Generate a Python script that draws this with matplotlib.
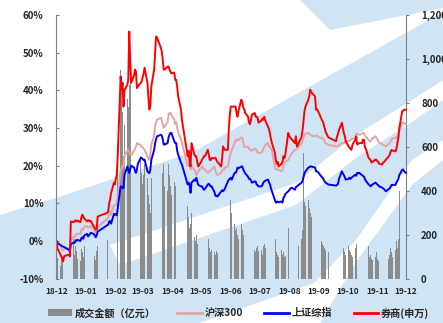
import numpy as np
import pandas as pd
import matplotlib
matplotlib.use("Agg")
import matplotlib.pyplot as plt
import matplotlib.dates as mdates
from matplotlib.patches import Polygon, Patch
from matplotlib.lines import Line2D
from matplotlib.ticker import FuncFormatter, FixedLocator

plt.rcParams['font.family'] = ['Noto Sans CJK SC', 'DejaVu Sans']
plt.rcParams['font.weight'] = 'bold'

# trading calendar, 2018-12-20 .. 2019-12-20
holidays = ['2018-12-31', '2019-01-01', '2019-02-04', '2019-02-05', '2019-02-06',
            '2019-02-07', '2019-02-08', '2019-04-05', '2019-05-01', '2019-05-02',
            '2019-05-03', '2019-06-07', '2019-09-13', '2019-10-01', '2019-10-02',
            '2019-10-03', '2019-10-04', '2019-10-07']

# 成交金额 (亿元), one value per trading day, month by month
turnover = (
    [150, 95, 60, 110, 75, 95, 80] +
    [60, 75, 230, 180, 110, 150, 125, 90, 80, 135, 120, 100, 150, 130, 95, 80, 100, 110, 120, 105, 85, 125] +
    [150, 175, 210, 300, 290, 260, 390, 470, 410, 440, 610, 950, 870, 760, 560] +
    [700, 820, 780, 880, 920, 900, 760, 790, 700, 520, 470, 560, 480, 430, 470, 520, 460, 380, 340, 300, 460] +
    [620, 600, 560, 650, 700, 560, 480, 520, 420, 400, 520, 470, 420, 380, 440, 420, 350, 360, 300, 290, 250] +
    [330, 280, 230, 250, 300, 190, 170, 200, 160, 150, 130, 140, 150, 120, 125, 160, 180, 140, 120, 130] +
    [120, 110, 125, 115, 160, 260, 200, 160, 140, 150, 270, 320, 360, 300, 250, 220, 230, 200, 180] +
    [250, 220, 200, 170, 160, 200, 170, 140, 150, 160, 130, 120, 140, 150, 125, 130, 110, 150, 160, 140, 170, 130, 120] +
    [140, 150, 170, 180, 120, 110, 100, 130, 110, 120, 100, 105, 230, 260, 200, 160, 170, 140, 150, 130, 130, 150] +
    [180, 220, 570, 350, 330, 360, 320, 300, 280, 260, 240, 200, 180, 190, 170, 160, 150, 140, 130, 120] +
    [100, 110, 130, 150, 250, 170, 140, 120, 110, 150, 130, 120, 110, 100, 140, 160, 120, 110] +
    [100, 130, 120, 110, 100, 95, 150, 100, 110, 90, 85, 100, 120, 90, 80, 75, 90, 85, 80, 95, 70] +
    [90, 110, 140, 120, 100, 130, 170, 140, 180, 400, 570, 480, 310, 350, 260]
)

# cumulative change, %
hs300 = (
    [0, -0.8, -1.2, -1.8, -2.3, -2.5, -2.2] +
    [-2.0, -2.5, 0.5, 1.0, 1.0, 1.8, 1.6, 2.0, 1.8, 3.0, 3.3, 3.0, 3.8, 4.0, 3.5, 3.6, 3.8, 4.0, 3.0, 2.5, 2.0, 2.8] +
    [3.8, 5.8, 6.0, 7.5, 7.8, 7.0, 9.5, 9.4, 9.6, 9.8, 12.0, 19.0, 19.0, 20.0, 19.8] +
    [22.5, 24.0, 24.2, 23.5, 23.0, 22.8, 24.0, 24.5, 25.0, 26.0, 25.8, 25.5, 25.0, 24.8, 24.5, 24.2, 22.5, 21.8, 21.6, 23.0, 25.5] +
    [28.0, 30.5, 31.5, 32.2, 32.7, 32.0, 31.0, 30.1, 30.4, 31.5, 33.5, 34.0, 34.0, 33.5, 32.2, 31.0, 31.5, 30.0, 29.0, 27.0, 26.0] +
    [20.0, 20.3, 19.8, 19.0, 20.0, 18.9, 18.5, 17.5, 17.8, 18.5, 19.5, 19.8, 19.4, 19.0, 19.0, 18.1, 18.5, 18.5, 18.8, 19.0] +
    [19.8, 18.5, 18.0, 17.5, 18.1, 18.8, 19.0, 19.0, 19.5, 19.8, 21.0, 22.5, 23.5, 24.0, 26.0, 26.9, 26.5, 27.0, 26.8] +
    [27.5, 27.4, 26.0, 25.1, 25.0, 25.0, 24.5, 24.5, 24.0, 24.0, 24.5, 24.5, 24.0, 23.5, 23.4, 23.4, 23.8, 24.5, 25.0, 25.5, 26.0, 25.0, 25.0] +
    [24.5, 24.0, 19.8, 19.0, 18.9, 19.0, 18.9, 18.5, 18.8, 20.0, 20.5, 21.1, 21.5, 22.0, 22.5, 23.0, 23.4, 24.2, 24.3, 24.5, 24.8, 25.0] +
    [26.0, 26.5, 27.5, 28.2, 28.5, 28.7, 28.5, 28.2, 28.0, 27.8, 28.0, 28.0, 27.8, 27.5, 27.4, 27.2, 27.0, 26.5, 26.0, 25.5] +
    [25.2, 25.1, 25.3, 25.5, 26.0, 26.0, 26.0, 26.2, 26.4, 26.5, 26.6, 26.8, 27.0, 27.2, 27.4, 28.5, 28.5, 28.3] +
    [28.2, 28.5, 28.7, 28.7, 28.0, 27.8, 26.8, 26.5, 26.4, 27.0, 27.2, 27.8, 27.5, 27.0, 26.5, 26.0, 25.8, 25.5, 25.5, 25.2, 25.1] +
    [25.8, 26.0, 26.5, 27.0, 27.2, 27.4, 27.4, 27.8, 28.0, 29.0, 31.4, 31.5, 31.4, 31.0, 31.0]
)

sh_comp = (
    [0, -0.5, -1.0, -1.2, -1.4, -1.5, -1.6] +
    [-2.3, -2.8, -0.8, -0.4, -0.5, 0.2, 0.1, 0.3, 0.0, 0.8, 1.0, 0.6, 1.5, 1.9, 1.2, 1.5, 1.9, 2.2, 1.8, 1.5, 1.0, 1.5] +
    [2.5, 4.2, 4.3, 5.2, 5.3, 4.6, 7.2, 7.0, 7.2, 6.8, 8.8, 14.5, 14.2, 14.3, 14.0] +
    [17.5, 19.8, 18.8, 18.1, 19.0, 20.0, 19.5, 18.6, 18.1, 19.0, 20.5, 22.1, 22.0, 21.8, 21.5, 21.6, 18.5, 18.2, 18.0, 19.0, 21.5] +
    [24.2, 26.0, 27.0, 27.8, 28.2, 28.0, 27.0, 25.6, 25.6, 26.0, 27.5, 28.2, 28.7, 28.7, 26.5, 26.0, 26.0, 24.0, 23.0, 20.8, 20.3] +
    [15.0, 15.5, 14.9, 12.8, 15.5, 16.3, 16.0, 16.8, 15.8, 14.9, 14.5, 14.5, 14.0, 13.6, 13.8, 15.0, 15.2, 14.9, 14.5, 14.5] +
    [13.0, 12.0, 12.0, 11.8, 13.2, 13.5, 13.2, 13.5, 14.0, 15.8, 16.3, 16.5, 16.8, 16.3, 18.1, 18.1, 18.5, 19.5, 19.3] +
    [19.8, 19.8, 19.0, 18.5, 18.0, 17.1, 16.5, 16.5, 16.2, 15.5, 15.8, 15.8, 15.0, 14.8, 14.5, 14.5, 14.8, 15.5, 15.8, 16.0, 16.3, 15.5, 15.0] +
    [14.0, 13.2, 11.0, 10.2, 10.3, 10.5, 10.3, 10.5, 10.2, 11.5, 11.8, 12.5, 13.2, 13.5, 13.8, 14.1, 14.1, 13.6, 14.3, 14.5, 14.7, 14.9] +
    [15.5, 16.0, 17.0, 18.0, 18.5, 19.5, 19.6, 19.8, 19.8, 19.5, 18.5, 18.5, 18.3, 18.0, 17.0, 16.8, 16.3, 15.8, 15.5, 15.0] +
    [14.7, 14.9, 15.2, 16.5, 18.5, 18.0, 17.5, 17.0, 16.3, 16.5, 16.8, 16.5, 16.8, 17.0, 17.6, 17.3, 18.1, 18.0] +
    [18.1, 17.5, 17.3, 17.1, 16.5, 16.0, 15.0, 14.8, 14.5, 14.8, 15.0, 15.5, 15.3, 15.0, 14.8, 14.5, 14.2, 14.0, 13.8, 13.5, 13.2] +
    [13.8, 14.0, 14.5, 14.9, 14.9, 14.9, 15.5, 16.0, 16.5, 17.5, 18.9, 19.0, 18.5, 18.3, 18.1]
)

brokers = (
    [0, -2.0, -3.5, -4.1, -4.6, -5.4, -4.0] +
    [-3.6, -4.1, 5.2, 5.0, 5.3, 5.5, 5.2, 5.4, 5.0, 6.3, 7.0, 6.5, 6.0, 5.2, 5.5, 5.5, 5.2, 5.3, 3.8, 3.5, 3.0, 3.2] +
    [6.5, 7.5, 7.9, 10.0, 11.0, 12.7, 15.5, 15.0, 16.7, 17.5, 23.0, 43.7, 40.2, 42.0, 35.7] +
    [40.0, 41.5, 43.0, 55.6, 48.0, 42.0, 44.0, 45.5, 45.0, 40.6, 41.0, 42.0, 42.4, 43.5, 44.5, 46.0, 42.0, 38.0, 34.9, 36.0, 41.0] +
    [45.5, 50.0, 54.3, 54.0, 51.3, 50.3, 48.0, 45.5, 45.5, 46.3, 46.3, 45.5, 45.0, 44.5, 44.7, 42.8, 42.8, 41.0, 38.5, 34.9, 32.2] +
    [22.5, 24.0, 21.0, 19.8, 26.0, 23.0, 22.5, 22.5, 21.0, 19.8, 21.0, 21.6, 22.0, 22.5, 22.5, 24.2, 23.0, 21.6, 21.5, 22.0] +
    [22.0, 22.1, 21.5, 21.0, 19.8, 22.0, 25.1, 24.5, 24.2, 24.2, 30.0, 33.5, 35.7, 35.7, 35.7, 35.7, 34.0, 33.0, 34.5] +
    [37.5, 37.0, 35.5, 35.0, 34.0, 33.0, 31.5, 31.0, 32.0, 33.5, 34.0, 33.0, 33.0, 32.7, 31.4, 32.0, 32.5, 32.2, 33.0, 32.0, 30.3, 29.6, 28.5] +
    [27.0, 26.0, 23.5, 21.6, 20.5, 21.0, 19.8, 20.5, 21.0, 22.5, 22.0, 23.0, 28.7, 28.0, 27.5, 27.2, 26.9, 26.0, 27.8, 25.1, 25.5, 26.0] +
    [27.8, 29.5, 32.0, 34.5, 35.7, 37.5, 38.5, 40.2, 39.5, 38.4, 34.9, 35.0, 34.5, 34.0, 32.2, 31.8, 31.0, 30.0, 29.0, 27.5] +
    [26.5, 27.8, 28.5, 29.5, 31.4, 30.0, 28.7, 28.0, 26.5, 25.1, 24.8, 24.5, 24.2, 25.5, 26.9, 27.8, 25.6, 25.8] +
    [26.0, 26.0, 26.9, 26.9, 25.0, 24.5, 22.0, 21.8, 21.5, 20.8, 21.0, 21.6, 21.6, 21.2, 21.0, 20.5, 20.3, 20.8, 21.0, 21.2, 21.6] +
    [22.5, 23.0, 23.8, 24.2, 24.0, 23.8, 24.5, 26.0, 27.5, 30.0, 34.4, 34.6, 34.8, 34.9, 34.9]
)

days = pd.bdate_range('2018-12-20', '2019-12-20')
days = days[~days.isin(pd.to_datetime(holidays))]
assert len(days) == len(turnover) == len(hs300) == len(sh_comp) == len(brokers), \
    (len(days), len(turnover), len(hs300), len(sh_comp), len(brokers))

W, H = 443, 323
fig = plt.figure(figsize=(W / 100, H / 100), dpi=100)


def fpoly(pts, color, z=0):
    # polygon given in figure pixels (origin top-left)
    xy = [(x / W, 1 - y / H) for x, y in pts]
    fig.add_artist(Polygon(xy, closed=True, transform=fig.transFigure,
                           facecolor=color, edgecolor='none', zorder=z))


# watermark-like background
bg = '#cfe4f4'
fpoly([(0, 215), (56, 198), (193, 152), (300, 92), (443, 12), (443, 323), (0, 323)], bg)
fpoly([(110, 245), (296, 183), (356, 135), (412, 100), (443, 80), (443, 100),
       (412, 122), (356, 158), (296, 205), (120, 265)], 'white')
fpoly([(200, 323), (314, 283), (356, 240), (412, 160), (443, 140), (443, 160),
       (412, 185), (356, 262), (320, 323)], 'white')
fpoly([(300, 0), (443, 0), (443, 8), (330, 30)], bg)

ax = fig.add_axes([56 / W, 1 - 278.7 / H, 350.5 / W, (278.7 - 15) / H])
ax2 = ax.twinx()
ax.set_zorder(ax2.get_zorder() + 1)
ax.patch.set_visible(False)
ax2.patch.set_visible(False)

bar_gray = '#8c8c8c'
ax2.bar(days, turnover, width=0.6, color=bar_gray, edgecolor='none', linewidth=0, zorder=1)
ax.plot(days, hs300, color='#e6a3a3', lw=1.4)
ax.plot(days, sh_comp, color='#0000ff', lw=1.4)
ax.plot(days, brokers, color='#ff0000', lw=1.4)

ax.set_xlim(days[0] - pd.Timedelta(days=0.5), pd.Timestamp('2019-12-20') + pd.Timedelta(days=0.5))
ax.set_ylim(-10, 60)
ax2.set_ylim(0, 1200)

ax.yaxis.set_major_locator(FixedLocator(np.arange(-10, 61, 10)))
ax.yaxis.set_major_formatter(FuncFormatter(lambda v, p: f'{v:.0f}%'))
ax2.yaxis.set_major_locator(FixedLocator(np.arange(0, 1201, 200)))
ax2.yaxis.set_major_formatter(FuncFormatter(lambda v, p: f'{v:,.0f}'))

month_ticks = pd.date_range('2018-12-20', '2019-12-20', freq=pd.DateOffset(months=1))
ax.set_xticks(month_ticks)
ax.xaxis.set_major_formatter(mdates.DateFormatter('%y-%m'))

for a in (ax, ax2):
    for s in ('top', 'bottom'):
        a.spines[s].set_visible(False)
ax.spines['right'].set_visible(False)
ax2.spines['left'].set_visible(False)
ax.spines['left'].set_color('#808080')
ax2.spines['right'].set_color('#808080')

txt = '#262626'
ax.tick_params(axis='y', direction='in', length=2.5, color='#808080', labelsize=7, labelcolor=txt, pad=9)
ax2.tick_params(axis='y', direction='out', length=2.5, color='#808080', labelsize=7, labelcolor=txt, pad=8)
ax.tick_params(axis='x', length=0, labelsize=6, labelcolor=txt, pad=6)
for lab in ax.get_yticklabels() + ax2.get_yticklabels() + ax.get_xticklabels():
    lab.set_fontweight('bold')

handles = [Patch(facecolor=bar_gray, edgecolor='none'),
           Line2D([], [], color='#e6a3a3', lw=2),
           Line2D([], [], color='#0000ff', lw=2),
           Line2D([], [], color='#ff0000', lw=2)]
labels = ['成交金额（亿元）', '沪深300', '上证综指', '券商(申万)']
leg = fig.legend(handles, labels, loc='center', bbox_to_anchor=(0.538, 1 - 313 / H), ncol=4,
                 frameon=False, fontsize=7.3, handlelength=2.4, handleheight=0.7,
                 handletextpad=0.3, columnspacing=2.1)
for t in leg.get_texts():
    t.set_color(txt)
    t.set_fontweight('bold')

fig.savefig('out.png', dpi=100)
